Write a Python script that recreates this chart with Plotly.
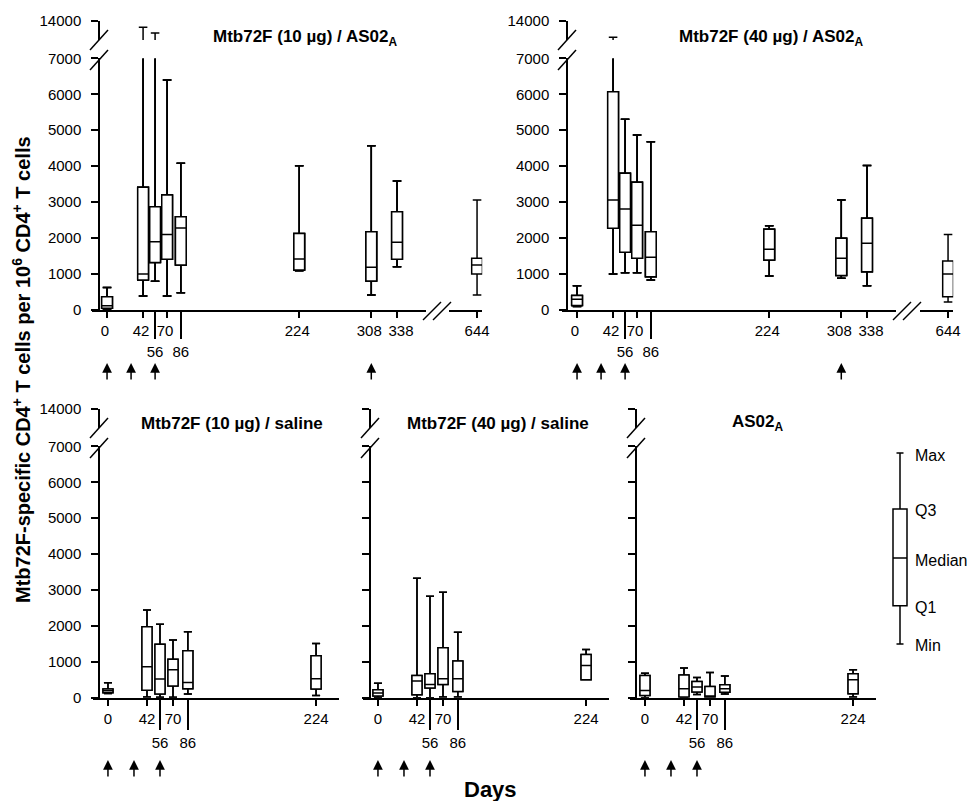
import plotly.graph_objects as go

W, H = 968, 801


def fx(px):
    return px / W


def fy(py):
    return 1 - py / H


# ---------------- data ----------------
days_top = [0, 42, 56, 70, 86, 224, 308, 338, 644]
days_bottom = [0, 42, 56, 70, 86, 224]

# Mtb72F (10 ug) / AS02A
tl_min = [0, 380, 790, 381, 474, 1086, 409, 1198, 409]
tl_q1 = [40, 826, 1318, 1402, 1244, 1105, 799, 1402, 994]
tl_med = [110, 994, 1894, 2098, 2275, 1411, 1179, 1876, 1244]
tl_q3 = [360, 3408, 2870, 3194, 2590, 2126, 2173, 2730, 1430]
tl_max = [620, 12800, 11700, 6397, 4076, 4011, 4568, 3584, 3055]

# Mtb72F (40 ug) / AS02A
tr_min = [90, 994, 1031, 1031, 826, 938, 873, 669, 214]
tr_q1 = [120, 2266, 1597, 1430, 919, 1383, 956, 1058, 362]
tr_med = [290, 3054, 2804, 2349, 1458, 1681, 1430, 1848, 994]
tr_q3 = [395, 6072, 3798, 3547, 2173, 2238, 1987, 2544, 1356]
tr_max = [669, 10900, 5302, 4865, 4680, 2340, 3055, 4020, 2098]

# Mtb72F (10 ug) / saline
bl_min = [120, 20, 10, 10, 100, 60]
bl_q1 = [139, 210, 100, 325, 250, 241]
bl_med = [195, 864, 520, 780, 420, 529]
bl_q3 = [242, 1978, 1486, 1068, 1309, 1170]
bl_max = [418, 2442, 2043, 1606, 1838, 1513]

# Mtb72F (40 ug) / saline
bm_min = [0, 0, 0, 20, 20, 500]
bm_q1 = [50, 80, 270, 370, 176, 500]
bm_med = [130, 463, 370, 528, 528, 898]
bm_q3 = [220, 620, 667, 1389, 1019, 1204]
bm_max = [400, 3324, 2824, 2935, 1824, 1343]

# AS02A
br_min = [0, 0, 90, 20, 100, 19]
br_q1 = [60, 20, 157, 20, 150, 111]
br_med = [200, 250, 300, 30, 250, 500]
br_q3 = [620, 630, 454, 315, 361, 667]
br_max = [680, 830, 565, 704, 602, 778]

# tick labels
y_low_vals = [0, 1000, 2000, 3000, 4000, 5000, 6000, 7000]
y_low_text = ["0", "1000", "2000", "3000", "4000", "5000", "6000", "7000"]
y_up_vals = [14000]
y_up_text = ["14000"]
x_short_top = [0, 42, 70, 224, 308]
x_short_bottom = [0, 42, 70, 224]
x_shifted_top = [338]
x_long = [56, 86]
x_late = [644]

# vaccination arrows (days)
arrow_days_top = [0, 28, 56, 308]
arrow_days_bottom = [0, 28, 56]

# key
legend_names = ["Min", "Q1", "Median", "Q3", "Max"]
legend_stats = [0.0, 0.2, 0.45, 0.707, 1.0]

panel_titles = [
    "Mtb72F (10 µg) / AS02<sub>A</sub>",
    "Mtb72F (40 µg) / AS02<sub>A</sub>",
    "Mtb72F (10 µg) / saline",
    "Mtb72F (40 µg) / saline",
    "AS02<sub>A</sub>",
]

# ---------------- styling ----------------
FONT = "Arial, Liberation Sans, sans-serif"
LW = 1.5
TOP_RANGE = [-18, 372]
SEG_RANGE = [611, 650]
BOT_RANGE = [-16, 249]
LOW_RANGE = [0, 7000]
UP_RANGE = [10400, 14000]

AX = dict(
    showline=True, linecolor="black", linewidth=LW,
    ticks="outside", tickcolor="black", tickwidth=LW,
    showgrid=False, zeroline=False, fixedrange=True, automargin=False,
    tickfont=dict(family=FONT, size=15, color="black"),
)

fig = go.Figure()


def add_box(days, lo, q1, med, q3, hi, xa, ya, width, ww=0.8):
    fig.add_trace(go.Box(
        x=days, lowerfence=lo, q1=q1, median=med, q3=q3, upperfence=hi,
        xaxis=xa, yaxis=ya, width=width, whiskerwidth=ww,
        fillcolor="white", line=dict(color="black", width=LW),
        boxpoints=False, hoverinfo="skip", showlegend=False,
    ))


lay = {}


def xax(key, dom, rng, vals, anchor, ticklen=7, line=True, overlay=None, shift=0):
    d = dict(AX)
    d.update(domain=[fx(dom[0]), fx(dom[1])], range=rng, tickvals=vals,
             ticktext=[str(v) for v in vals], anchor=anchor, ticklen=ticklen,
             showline=line, tickangle=0, ticklabelshift=shift)
    if overlay:
        d["overlaying"] = overlay
    lay[key] = d


def yax(key, dom, rng, vals, text, pos, labels=True):
    d = dict(AX)
    d.update(domain=[fy(dom[0]), fy(dom[1])], range=rng, tickvals=vals,
             ticktext=text, anchor="free", position=fx(pos), ticklen=7,
             showticklabels=labels, ticklabelstandoff=7)
    lay[key] = d


LOW_TOP = (309.7, 58.4)
UP_TOP = (40, 20.7)
LOW_BOT = (697.7, 446.4)
UP_BOT = (428, 409)

TL_DOM = (91.6, 426.2)
TR_DOM = (561.6, 896.2)

# top-left
xax("xaxis", TL_DOM, TOP_RANGE, x_short_top, "y", shift=-2)
xax("xaxis2", TL_DOM, TOP_RANGE, x_long, "y", ticklen=28, line=False, overlay="x")
xax("xaxis3", (448.7, 482.2), SEG_RANGE, x_late, "y")
xax("xaxis14", TL_DOM, TOP_RANGE, x_shifted_top, "y", line=False, overlay="x", shift=4)
yax("yaxis", LOW_TOP, LOW_RANGE, y_low_vals, y_low_text, 99)
yax("yaxis2", UP_TOP, UP_RANGE, y_up_vals, y_up_text, 99)
# top-right
xax("xaxis4", TR_DOM, TOP_RANGE, x_short_top, "y3", shift=-2)
xax("xaxis5", TR_DOM, TOP_RANGE, x_long, "y3", ticklen=28, line=False, overlay="x4")
xax("xaxis6", (919.7, 953.2), SEG_RANGE, x_late, "y3")
xax("xaxis15", TR_DOM, TOP_RANGE, x_shifted_top, "y3", line=False, overlay="x4", shift=4)
yax("yaxis3", LOW_TOP, LOW_RANGE, y_low_vals, y_low_text, 567)
yax("yaxis4", UP_TOP, UP_RANGE, y_up_vals, y_up_text, 567)
# bottom-left
xax("xaxis7", (93.1, 339.3), BOT_RANGE, x_short_bottom, "y5")
xax("xaxis8", (93.1, 339.3), BOT_RANGE, x_long, "y5", ticklen=31, line=False, overlay="x7")
yax("yaxis5", LOW_BOT, LOW_RANGE, y_low_vals, y_low_text, 99)
yax("yaxis6", UP_BOT, UP_RANGE, y_up_vals, y_up_text, 99)
# bottom-middle
xax("xaxis9", (363.1, 609.3), BOT_RANGE, x_short_bottom, "y7")
xax("xaxis10", (363.1, 609.3), BOT_RANGE, x_long, "y7", ticklen=31, line=False, overlay="x9")
yax("yaxis7", LOW_BOT, LOW_RANGE, y_low_vals, y_low_text, 370, labels=False)
yax("yaxis8", UP_BOT, UP_RANGE, y_up_vals, y_up_text, 370, labels=False)
# bottom-right
xax("xaxis11", (630.1, 876.3), BOT_RANGE, x_short_bottom, "y9")
xax("xaxis12", (630.1, 876.3), BOT_RANGE, x_long, "y9", ticklen=31, line=False, overlay="x11")
yax("yaxis9", LOW_BOT, LOW_RANGE, y_low_vals, y_low_text, 636, labels=False)
yax("yaxis10", UP_BOT, UP_RANGE, y_up_vals, y_up_text, 636, labels=False)
# key
lay["xaxis13"] = dict(domain=[fx(886), fx(914)], range=[-1, 1], visible=False,
                      anchor="y11", fixedrange=True, automargin=False)
lay["yaxis11"] = dict(domain=[fy(648), fy(449)], range=[-0.021, 1.021], visible=False,
                      anchor="x13", fixedrange=True, automargin=False)

# ---------------- boxes ----------------
TL = (days_top, tl_min, tl_q1, tl_med, tl_q3, tl_max)
TR = (days_top, tr_min, tr_q1, tr_med, tr_q3, tr_max)
for xa, ya in (("x", "y"), ("x2", "y"), ("x14", "y"), ("x", "y2"), ("x3", "y")):
    add_box(*TL, xa, ya, 12.5)
for xa, ya in (("x4", "y3"), ("x5", "y3"), ("x15", "y3"), ("x4", "y4"), ("x6", "y3")):
    add_box(*TR, xa, ya, 12.5)
for data, xa, xo, ylo, yhi in (
    ((days_bottom, bl_min, bl_q1, bl_med, bl_q3, bl_max), "x7", "x8", "y5", "y6"),
    ((days_bottom, bm_min, bm_q1, bm_med, bm_q3, bm_max), "x9", "x10", "y7", "y8"),
    ((days_bottom, br_min, br_q1, br_med, br_q3, br_max), "x11", "x12", "y9", "y10"),
):
    add_box(*data, xa, ylo, 10.8)
    add_box(*data, xo, ylo, 10.8)
    add_box(*data, xa, yhi, 10.8)

add_box([0], [legend_stats[0]], [legend_stats[1]], [legend_stats[2]],
        [legend_stats[3]], [legend_stats[4]], "x13", "y11", 1.0, ww=0.5)

# ---------------- annotations ----------------
ann = []
title_pos = [(305, 38), (771, 38), (232, 424), (498, 424), (758, 423)]
for t, (px, py) in zip(panel_titles, title_pos):
    ann.append(dict(text="<b>" + t + "</b>", x=fx(px), y=fy(py), xref="paper", yref="paper",
                    showarrow=False, xanchor="center", yanchor="middle",
                    font=dict(family=FONT, size=17, color="black")))

ann.append(dict(
    text="<b>Mtb72F-specific CD4<sup>+</sup> T cells per 10<sup>6</sup> CD4<sup>+</sup> T cells</b>",
    x=fx(21), y=fy(370), xref="paper", yref="paper", showarrow=False, textangle=-90,
    xanchor="center", yanchor="middle", font=dict(family=FONT, size=20, color="black")))
ann.append(dict(text="<b>Days</b>", x=fx(490), y=fy(789), xref="paper", yref="paper",
                showarrow=False, xanchor="center", yanchor="middle",
                font=dict(family=FONT, size=22, color="black")))

for name, val in zip(legend_names, legend_stats):
    ann.append(dict(text=name, x=fx(913), y=val, xref="paper", yref="y11", showarrow=False,
                    xanchor="left", yanchor="middle", yshift=-2,
                    font=dict(family=FONT, size=16, color="black")))


def arrows(days, xref, tip_py):
    for d in days:
        ann.append(dict(text="", x=d, y=fy(tip_py), xref=xref, yref="paper",
                        showarrow=True, ax=0, ay=18, axref="pixel", ayref="pixel",
                        arrowhead=2, arrowsize=1.3, arrowwidth=1.5, arrowcolor="black",
                        standoff=0))


arrows(arrow_days_top, "x", 363)
arrows(arrow_days_top, "x4", 363)
arrows(arrow_days_bottom, "x7", 760)
arrows(arrow_days_bottom, "x9", 760)
arrows(arrow_days_bottom, "x11", 760)

# ---------------- axis-break marks ----------------
shapes = []


def seg(x0, y0, x1, y1):
    shapes.append(dict(type="line", xref="paper", yref="paper",
                       x0=fx(x0), y0=fy(y0), x1=fx(x1), y1=fy(y1),
                       line=dict(color="black", width=LW)))


for axp in (99, 567):
    seg(axp + 9, 30, axp - 9, 50)
    seg(axp + 9, 50, axp - 9, 70)
for axp in (99, 370, 636):
    seg(axp + 9, 418, axp - 9, 438)
    seg(axp + 9, 438, axp - 9, 458)
for x0 in (423, 893):
    seg(x0, 320, x0 + 18, 302)
    seg(x0 + 10, 320, x0 + 28, 302)

fig.update_layout(
    width=W, height=H, autosize=False,
    margin=dict(l=0, r=0, t=0, b=0, pad=0, autoexpand=False),
    paper_bgcolor="white", plot_bgcolor="rgba(0,0,0,0)",
    showlegend=False, hovermode=False, boxmode="overlay",
    font=dict(family=FONT, color="black"),
    annotations=ann, shapes=shapes,
    **lay,
)

fig.write_html(
    "out.html",
    config={"displayModeBar": False},
    post_script="document.body.style.margin='0px';document.body.style.overflow='hidden';",
)
